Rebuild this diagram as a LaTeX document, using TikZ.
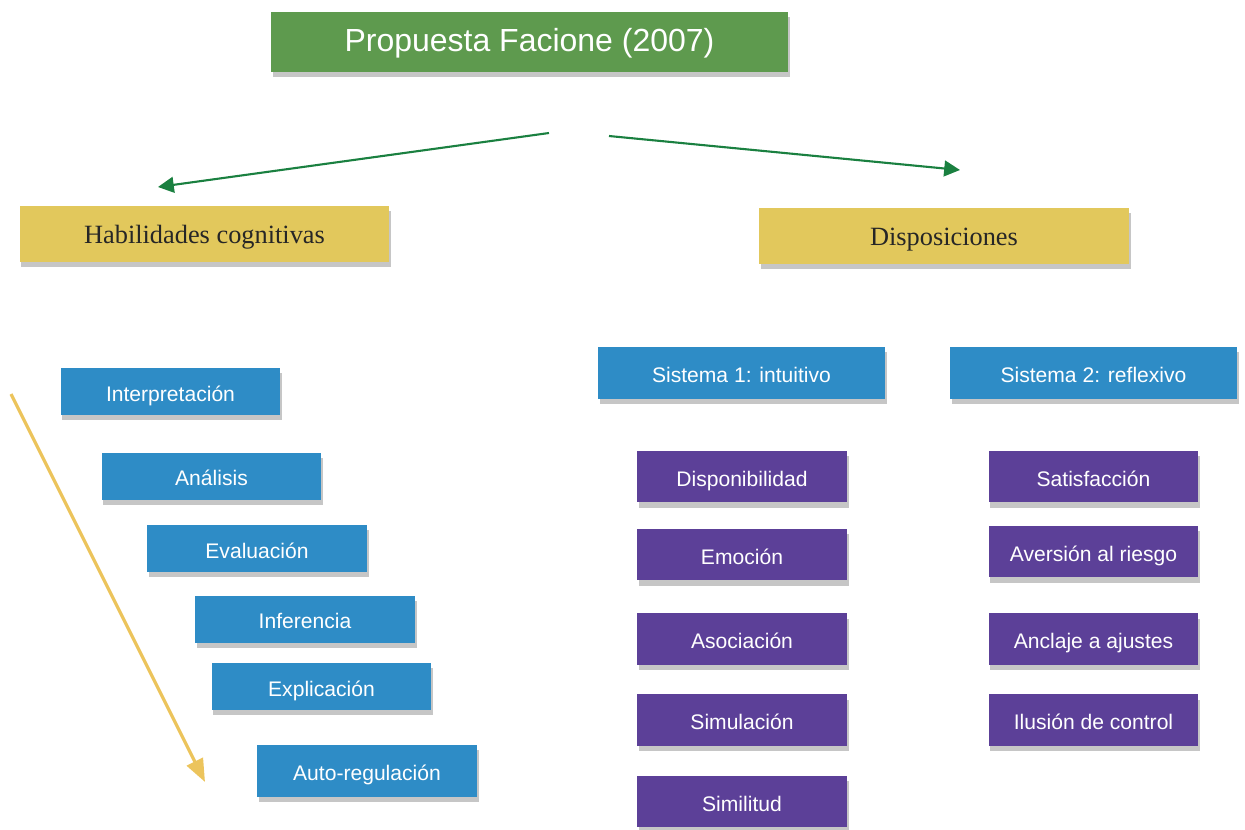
\documentclass[tikz,border=0pt]{standalone}
\usepackage{fontspec}
\setmainfont{Liberation Serif}
\setsansfont{Liberation Sans}
\usetikzlibrary{arrows.meta, shadows}
\definecolor{verdeT}{RGB}{94,154,78}
\definecolor{amarilloT}{RGB}{226,200,92}
\definecolor{azulT}{RGB}{46,140,198}
\definecolor{moradoT}{RGB}{92,64,152}
\definecolor{verdeF}{RGB}{26,128,64}
\definecolor{amarilloF}{RGB}{236,196,92}

\begin{document}
\begin{tikzpicture}[x=0.02cm, y=-0.02cm,
	caja/.style={rectangle, inner sep=0pt, text height=1.15em, text depth=0.05em, drop shadow={shadow xshift=1pt, shadow yshift=-3pt, opacity=0.45}},
	titulo/.style={caja, fill=verdeT, text=white, font=\sffamily\fontsize{18.2}{20}\selectfont, minimum width=10.34cm, minimum height=1.2cm},
	rama/.style={caja, fill=amarilloT, text=black!85, font=\rmfamily\fontsize{15}{17}\selectfont, minimum width=7.4cm, minimum height=1.12cm},
	habil/.style={caja, fill=azulT, text=white, font=\sffamily\fontsize{12}{14}\selectfont, minimum width=4.4cm, minimum height=0.94cm},
	sistema/.style={caja, fill=azulT, text=white, font=\sffamily\fontsize{12}{14}\selectfont, minimum width=5.74cm, minimum height=1.04cm},
	dispo/.style={caja, fill=moradoT, text=white, font=\sffamily\fontsize{12}{14}\selectfont, minimum width=4.2cm, minimum height=1.03cm},
	flecha/.style={verdeF, line width=1.2pt, -{Triangle[length=9pt, width=9pt]}}
	]
	%%% Margini
	\useasboundingbox (0,0) rectangle (1245,829);
	
	%%% Titolo e rami
	\node[titulo] (tit) at (529.5,42) {Propuesta Facione (2007)};
	\node[rama] (hab) at (204.5,234) {Habilidades cognitivas};
	\node[rama] (dis) at (944,236) {Disposiciones};
	
	%%% Habilidades
	\node[habil] (int) at (170.5,391.5) {Interpretación};
	\node[habil] (ana) at (211.5,476) {Análisis};
	\node[habil] (eva) at (257,548.5) {Evaluación};
	\node[habil] (inf) at (305,619) {Inferencia};
	\node[habil] (exp) at (321.5,686.5) {Explicación};
	\node[habil, minimum height=1.04cm] (aut) at (367,771) {Auto-regulación};
	
	%%% Sistemi
	\node[sistema] (s1) at (741.5,373) {Sistema 1: intuitivo};
	\node[sistema] (s2) at (1093.5,373) {Sistema 2: reflexivo};
	
	\node[dispo] (d1) at (742,476.5) {Disponibilidad};
	\node[dispo] (d2) at (742,554.5) {Emoción};
	\node[dispo] (d3) at (742,639) {Asociación};
	\node[dispo] (d4) at (742,720) {Simulación};
	\node[dispo] (d5) at (742,801.5) {Similitud};
	
	\node[dispo] (r1) at (1093.5,476.5) {Satisfacción};
	\node[dispo] (r2) at (1093.5,551.5) {Aversión al riesgo};
	\node[dispo] (r3) at (1093.5,639) {Anclaje a ajustes};
	\node[dispo] (r4) at (1093.5,720) {Ilusión de control};
	
	%%% Frecce
	\coordinate (oi) at (549,133);
	\coordinate (fi) at (158,187);
	\coordinate (od) at (609,136);
	\coordinate (fd) at (960,170);
	\coordinate (oa) at (11,394);
	\coordinate (fa) at (205,782);
	\draw[flecha] (oi) -- (fi);
	\draw[flecha] (od) -- (fd);
	\draw[amarilloF, line width=1.8pt, -{Triangle[length=13pt, width=10pt]}] (oa) -- (fa);
\end{tikzpicture}
\end{document}
